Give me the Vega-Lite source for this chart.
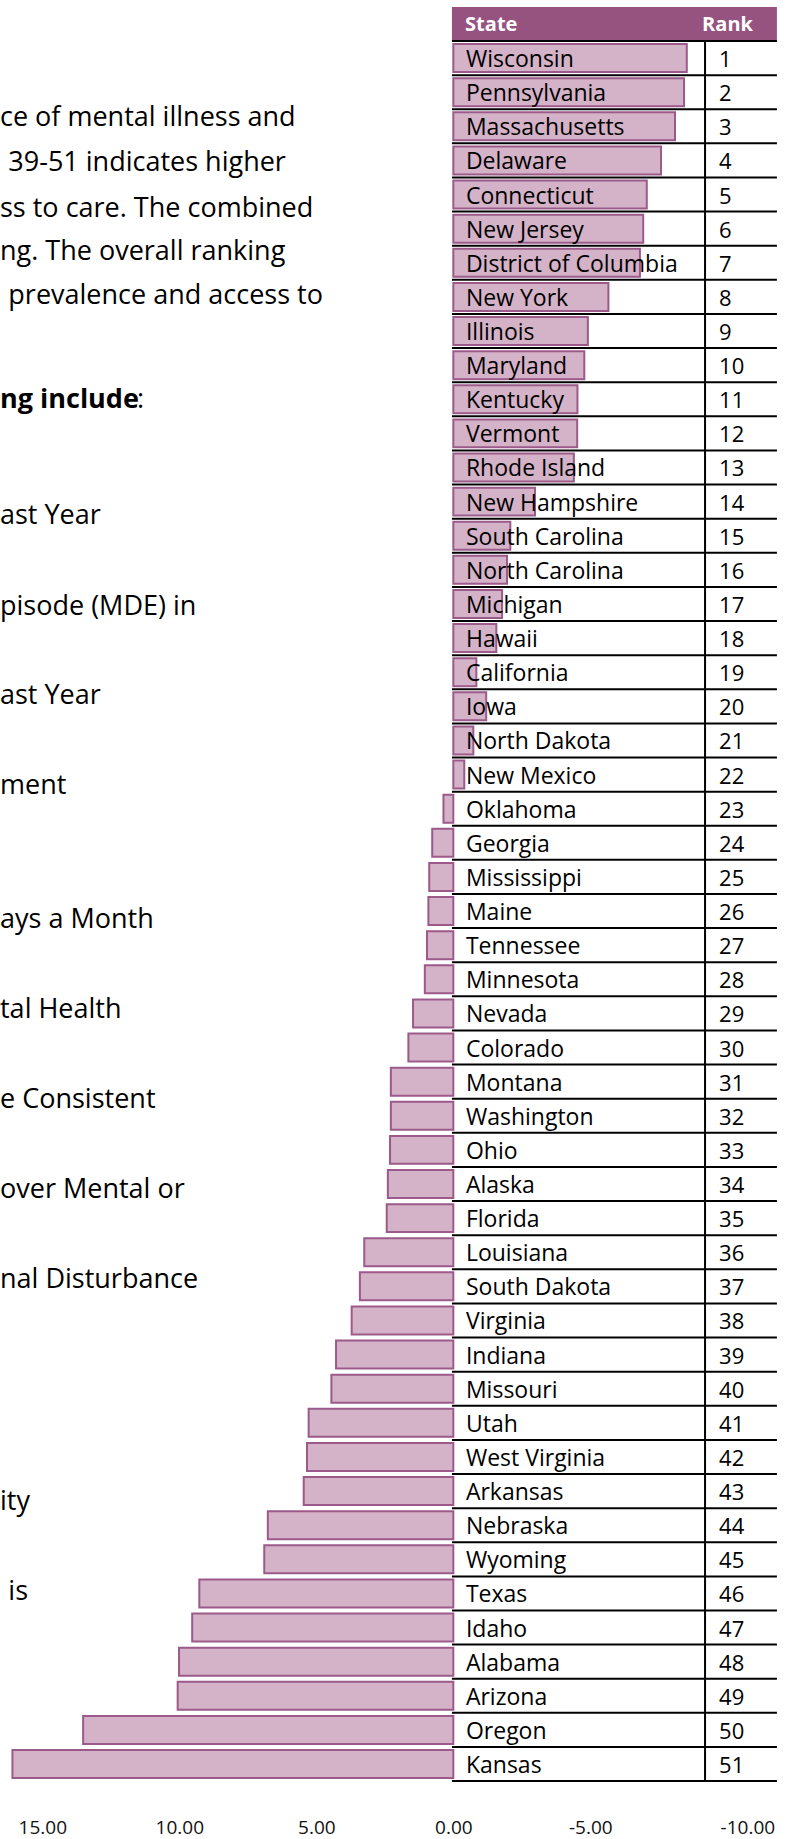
{
  "$schema": "https://vega.github.io/schema/vega-lite/v6.json",
  "width": 792,
  "height": 1800,
  "autosize": {"type": "none"},
  "padding": {"left": 0, "top": 0, "right": 0, "bottom": 39},
  "background": "white",
  "config": {
    "view": {"stroke": null},
    "font": "Open Sans",
    "axisX": {
      "domain": false, "ticks": false, "tickSize": 0, "grid": false, "title": null,
      "labelFont": "Open Sans", "labelFontSize": 19, "labelColor": "#111111",
      "labelPadding": 27, "labelBaseline": "middle", "labelFlush": false, "labelOverlap": false
    }
  },
  "datasets": {
    "states": [
      {"State": "Wisconsin", "Rank": 1, "Score": -8.52},
      {"State": "Pennsylvania", "Rank": 2, "Score": -8.42},
      {"State": "Massachusetts", "Rank": 3, "Score": -8.09},
      {"State": "Delaware", "Rank": 4, "Score": -7.58},
      {"State": "Connecticut", "Rank": 5, "Score": -7.06},
      {"State": "New Jersey", "Rank": 6, "Score": -6.93},
      {"State": "District of Columbia", "Rank": 7, "Score": -6.81},
      {"State": "New York", "Rank": 8, "Score": -5.66},
      {"State": "Illinois", "Rank": 9, "Score": -4.91},
      {"State": "Maryland", "Rank": 10, "Score": -4.78},
      {"State": "Kentucky", "Rank": 11, "Score": -4.53},
      {"State": "Vermont", "Rank": 12, "Score": -4.52},
      {"State": "Rhode Island", "Rank": 13, "Score": -4.40},
      {"State": "New Hampshire", "Rank": 14, "Score": -2.98},
      {"State": "South Carolina", "Rank": 15, "Score": -2.08},
      {"State": "North Carolina", "Rank": 16, "Score": -1.96},
      {"State": "Michigan", "Rank": 17, "Score": -1.78},
      {"State": "Hawaii", "Rank": 18, "Score": -1.57},
      {"State": "California", "Rank": 19, "Score": -0.84},
      {"State": "Iowa", "Rank": 20, "Score": -1.2},
      {"State": "North Dakota", "Rank": 21, "Score": -0.73},
      {"State": "New Mexico", "Rank": 22, "Score": -0.40},
      {"State": "Oklahoma", "Rank": 23, "Score": 0.36},
      {"State": "Georgia", "Rank": 24, "Score": 0.77},
      {"State": "Mississippi", "Rank": 25, "Score": 0.88},
      {"State": "Maine", "Rank": 26, "Score": 0.91},
      {"State": "Tennessee", "Rank": 27, "Score": 0.96},
      {"State": "Minnesota", "Rank": 28, "Score": 1.04},
      {"State": "Nevada", "Rank": 29, "Score": 1.47},
      {"State": "Colorado", "Rank": 30, "Score": 1.64},
      {"State": "Montana", "Rank": 31, "Score": 2.28},
      {"State": "Washington", "Rank": 32, "Score": 2.28},
      {"State": "Ohio", "Rank": 33, "Score": 2.31},
      {"State": "Alaska", "Rank": 34, "Score": 2.39},
      {"State": "Florida", "Rank": 35, "Score": 2.43},
      {"State": "Louisiana", "Rank": 36, "Score": 3.25},
      {"State": "South Dakota", "Rank": 37, "Score": 3.41},
      {"State": "Virginia", "Rank": 38, "Score": 3.71},
      {"State": "Indiana", "Rank": 39, "Score": 4.28},
      {"State": "Missouri", "Rank": 40, "Score": 4.45},
      {"State": "Utah", "Rank": 41, "Score": 5.28},
      {"State": "West Virginia", "Rank": 42, "Score": 5.34},
      {"State": "Arkansas", "Rank": 43, "Score": 5.46},
      {"State": "Nebraska", "Rank": 44, "Score": 6.77},
      {"State": "Wyoming", "Rank": 45, "Score": 6.90},
      {"State": "Texas", "Rank": 46, "Score": 9.27},
      {"State": "Idaho", "Rank": 47, "Score": 9.53},
      {"State": "Alabama", "Rank": 48, "Score": 10.01},
      {"State": "Arizona", "Rank": 49, "Score": 10.06},
      {"State": "Oregon", "Rank": 50, "Score": 13.51},
      {"State": "Kansas", "Rank": 51, "Score": 16.09}
    ],
    "header": [{"State": "State", "Rank": "Rank"}],
    "notes": [
      {"line": 2.63, "text": "ce of mental illness and"},
      {"line": 4.65, "text": "ss to care. The combined"},
      {"line": 5.62, "text": "ng. The overall ranking"},
      {"line": 11.5, "text": "ast Year"},
      {"line": 13.53, "text": "pisode (MDE) in"},
      {"line": 15.52, "text": "ast Year"},
      {"line": 17.52, "text": "ment"},
      {"line": 20.51, "text": "ays a Month"},
      {"line": 22.52, "text": "tal Health"},
      {"line": 24.53, "text": "e Consistent"},
      {"line": 26.53, "text": "over Mental or"},
      {"line": 28.54, "text": "nal Disturbance"},
      {"line": 33.49, "text": "ity"}
    ],
    "indented": [
      {"line": 3.63, "text": "39-51 indicates higher"},
      {"line": 6.61, "text": "prevalence and access to"},
      {"line": 35.5, "text": "is"}
    ],
    "boldnote": [{"line": 8.92, "text": "ng include"}],
    "colon": [{"line": 8.92, "text": ":"}]
  },
  "layer": [
    {
      "encoding": {
        "y": {
          "field": "State", "type": "nominal", "axis": null,
          "scale": {
            "domain": ["State", "Wisconsin", "Pennsylvania", "Massachusetts", "Delaware", "Connecticut", "New Jersey", "District of Columbia", "New York", "Illinois", "Maryland", "Kentucky", "Vermont", "Rhode Island", "New Hampshire", "South Carolina", "North Carolina", "Michigan", "Hawaii", "California", "Iowa", "North Dakota", "New Mexico", "Oklahoma", "Georgia", "Mississippi", "Maine", "Tennessee", "Minnesota", "Nevada", "Colorado", "Montana", "Washington", "Ohio", "Alaska", "Florida", "Louisiana", "South Dakota", "Virginia", "Indiana", "Missouri", "Utah", "West Virginia", "Arkansas", "Nebraska", "Wyoming", "Texas", "Idaho", "Alabama", "Arizona", "Oregon", "Kansas"],
            "paddingInner": 0, "paddingOuter": 0.378, "align": 0.267
          }
        }
      },
      "layer": [
        {
          "data": {"name": "header"},
          "mark": {"type": "bar", "fill": "#97537F"},
          "encoding": {
            "x": {"datum": 0.05, "scale": {"domain": [-12.36, 16.544], "reverse": true, "nice": false, "zero": false}, "axis": {"values": [15, 10, 5, 0, -5, -10], "labelExpr": "datum.value < 0 ? '-' + format(-datum.value, '.2f') : format(datum.value, '.2f')", "labelOffset": {"condition": {"test": "datum.value == -10", "value": 20}, "value": 0}}},
            "x2": {"datum": -11.81}
          }
        },
        {
          "data": {"name": "header"},
          "mark": {"type": "text", "align": "left", "baseline": "middle", "fontWeight": "bold", "fontSize": 20, "color": "white", "font": "Open Sans", "dy": 1},
          "encoding": {
            "x": {"datum": -0.43, "scale": {"domain": [-12.36, 16.544], "reverse": true, "nice": false, "zero": false}, "axis": {"values": [15, 10, 5, 0, -5, -10], "labelExpr": "datum.value < 0 ? '-' + format(-datum.value, '.2f') : format(datum.value, '.2f')", "labelOffset": {"condition": {"test": "datum.value == -10", "value": 20}, "value": 0}}},
            "text": {"field": "State"}
          }
        },
        {
          "data": {"name": "header"},
          "mark": {"type": "text", "align": "left", "baseline": "middle", "fontWeight": "bold", "fontSize": 20, "color": "white", "font": "Open Sans", "dy": 1},
          "encoding": {
            "x": {"datum": -9.08, "scale": {"domain": [-12.36, 16.544], "reverse": true, "nice": false, "zero": false}, "axis": {"values": [15, 10, 5, 0, -5, -10], "labelExpr": "datum.value < 0 ? '-' + format(-datum.value, '.2f') : format(datum.value, '.2f')", "labelOffset": {"condition": {"test": "datum.value == -10", "value": 20}, "value": 0}}},
            "text": {"field": "Rank"}
          }
        },
        {
          "data": {"name": "states"},
          "mark": {"type": "bar", "fill": "#000000"},
          "encoding": {
            "x": {"datum": -9.15, "scale": {"domain": [-12.36, 16.544], "reverse": true, "nice": false, "zero": false}, "axis": {"values": [15, 10, 5, 0, -5, -10], "labelExpr": "datum.value < 0 ? '-' + format(-datum.value, '.2f') : format(datum.value, '.2f')", "labelOffset": {"condition": {"test": "datum.value == -10", "value": 20}, "value": 0}}},
            "x2": {"datum": -9.223}
          }
        },
        {
          "data": {"name": "states"},
          "mark": {"type": "bar", "fill": "#D4B2C7", "stroke": "#9C5A8A", "strokeWidth": 2, "height": {"band": 0.82}},
          "encoding": {
            "x": {
              "field": "Score", "type": "quantitative",
              "scale": {"domain": [-12.36, 16.544], "reverse": true, "nice": false, "zero": false},
              "axis": {"values": [15, 10, 5, 0, -5, -10], "labelExpr": "datum.value < 0 ? '-' + format(-datum.value, '.2f') : format(datum.value, '.2f')", "labelOffset": {"condition": {"test": "datum.value == -10", "value": 20}, "value": 0}}
            },
            "x2": {"datum": 0}
          }
        },
        {
          "data": {"name": "header"},
          "mark": {"type": "rule", "color": "#000000", "strokeWidth": 2},
          "encoding": {
            "x": {"datum": 0.05, "scale": {"domain": [-12.36, 16.544], "reverse": true, "nice": false, "zero": false}, "axis": {"values": [15, 10, 5, 0, -5, -10], "labelExpr": "datum.value < 0 ? '-' + format(-datum.value, '.2f') : format(datum.value, '.2f')", "labelOffset": {"condition": {"test": "datum.value == -10", "value": 20}, "value": 0}}},
            "x2": {"datum": -11.81},
            "y": {
              "field": "State", "type": "nominal", "axis": null, "bandPosition": 1,
              "scale": {
                "domain": ["State", "Wisconsin", "Pennsylvania", "Massachusetts", "Delaware", "Connecticut", "New Jersey", "District of Columbia", "New York", "Illinois", "Maryland", "Kentucky", "Vermont", "Rhode Island", "New Hampshire", "South Carolina", "North Carolina", "Michigan", "Hawaii", "California", "Iowa", "North Dakota", "New Mexico", "Oklahoma", "Georgia", "Mississippi", "Maine", "Tennessee", "Minnesota", "Nevada", "Colorado", "Montana", "Washington", "Ohio", "Alaska", "Florida", "Louisiana", "South Dakota", "Virginia", "Indiana", "Missouri", "Utah", "West Virginia", "Arkansas", "Nebraska", "Wyoming", "Texas", "Idaho", "Alabama", "Arizona", "Oregon", "Kansas"],
                "paddingInner": 0, "paddingOuter": 0.378, "align": 0.267
              }
            }
          }
        },
        {
          "data": {"name": "states"},
          "mark": {"type": "rule", "color": "#000000", "strokeWidth": 2},
          "encoding": {
            "x": {"datum": 0.05, "scale": {"domain": [-12.36, 16.544], "reverse": true, "nice": false, "zero": false}, "axis": {"values": [15, 10, 5, 0, -5, -10], "labelExpr": "datum.value < 0 ? '-' + format(-datum.value, '.2f') : format(datum.value, '.2f')", "labelOffset": {"condition": {"test": "datum.value == -10", "value": 20}, "value": 0}}},
            "x2": {"datum": -11.81},
            "y": {
              "field": "State", "type": "nominal", "axis": null, "bandPosition": 1,
              "scale": {
                "domain": ["State", "Wisconsin", "Pennsylvania", "Massachusetts", "Delaware", "Connecticut", "New Jersey", "District of Columbia", "New York", "Illinois", "Maryland", "Kentucky", "Vermont", "Rhode Island", "New Hampshire", "South Carolina", "North Carolina", "Michigan", "Hawaii", "California", "Iowa", "North Dakota", "New Mexico", "Oklahoma", "Georgia", "Mississippi", "Maine", "Tennessee", "Minnesota", "Nevada", "Colorado", "Montana", "Washington", "Ohio", "Alaska", "Florida", "Louisiana", "South Dakota", "Virginia", "Indiana", "Missouri", "Utah", "West Virginia", "Arkansas", "Nebraska", "Wyoming", "Texas", "Idaho", "Alabama", "Arizona", "Oregon", "Kansas"],
                "paddingInner": 0, "paddingOuter": 0.378, "align": 0.267
              }
            }
          }
        },
        {
          "data": {"name": "states"},
          "mark": {"type": "text", "align": "left", "baseline": "middle", "fontSize": 23, "color": "#000000", "font": "Open Sans", "dy": 2},
          "encoding": {
            "x": {"datum": -0.46, "scale": {"domain": [-12.36, 16.544], "reverse": true, "nice": false, "zero": false}, "axis": {"values": [15, 10, 5, 0, -5, -10], "labelExpr": "datum.value < 0 ? '-' + format(-datum.value, '.2f') : format(datum.value, '.2f')", "labelOffset": {"condition": {"test": "datum.value == -10", "value": 20}, "value": 0}}},
            "text": {"field": "State"}
          }
        },
        {
          "data": {"name": "states"},
          "mark": {"type": "text", "align": "left", "baseline": "middle", "fontSize": 22, "color": "#000000", "font": "Open Sans", "dy": 2},
          "encoding": {
            "x": {"datum": -9.70, "scale": {"domain": [-12.36, 16.544], "reverse": true, "nice": false, "zero": false}, "axis": {"values": [15, 10, 5, 0, -5, -10], "labelExpr": "datum.value < 0 ? '-' + format(-datum.value, '.2f') : format(datum.value, '.2f')", "labelOffset": {"condition": {"test": "datum.value == -10", "value": 20}, "value": 0}}},
            "text": {"field": "Rank"}
          }
        }
      ]
    },
    {
      "encoding": {
        "y": {"field": "line", "type": "quantitative", "axis": null, "scale": {"domain": [0, 40.134], "reverse": true, "nice": false, "zero": false}}
      },
      "layer": [
        {
          "data": {"name": "notes"},
          "mark": {"type": "text", "align": "left", "baseline": "middle", "fontSize": 27, "color": "#000000", "font": "Open Sans"},
          "encoding": {
            "x": {"datum": 16.544, "scale": {"domain": [-12.36, 16.544], "reverse": true, "nice": false, "zero": false}, "axis": {"values": [15, 10, 5, 0, -5, -10], "labelExpr": "datum.value < 0 ? '-' + format(-datum.value, '.2f') : format(datum.value, '.2f')", "labelOffset": {"condition": {"test": "datum.value == -10", "value": 20}, "value": 0}}},
            "text": {"field": "text"}
          }
        },
        {
          "data": {"name": "indented"},
          "mark": {"type": "text", "align": "left", "baseline": "middle", "fontSize": 27, "color": "#000000", "font": "Open Sans"},
          "encoding": {
            "x": {"datum": 16.24, "scale": {"domain": [-12.36, 16.544], "reverse": true, "nice": false, "zero": false}, "axis": {"values": [15, 10, 5, 0, -5, -10], "labelExpr": "datum.value < 0 ? '-' + format(-datum.value, '.2f') : format(datum.value, '.2f')", "labelOffset": {"condition": {"test": "datum.value == -10", "value": 20}, "value": 0}}},
            "text": {"field": "text"}
          }
        },
        {
          "data": {"name": "boldnote"},
          "mark": {"type": "text", "align": "left", "baseline": "middle", "fontSize": 27, "fontWeight": "bold", "color": "#000000", "font": "Open Sans"},
          "encoding": {
            "x": {"datum": 16.544, "scale": {"domain": [-12.36, 16.544], "reverse": true, "nice": false, "zero": false}, "axis": {"values": [15, 10, 5, 0, -5, -10], "labelExpr": "datum.value < 0 ? '-' + format(-datum.value, '.2f') : format(datum.value, '.2f')", "labelOffset": {"condition": {"test": "datum.value == -10", "value": 20}, "value": 0}}},
            "text": {"field": "text"}
          }
        },
        {
          "data": {"name": "colon"},
          "mark": {"type": "text", "align": "left", "baseline": "middle", "fontSize": 27, "color": "#000000", "font": "Open Sans"},
          "encoding": {
            "x": {"datum": 11.54, "scale": {"domain": [-12.36, 16.544], "reverse": true, "nice": false, "zero": false}, "axis": {"values": [15, 10, 5, 0, -5, -10], "labelExpr": "datum.value < 0 ? '-' + format(-datum.value, '.2f') : format(datum.value, '.2f')", "labelOffset": {"condition": {"test": "datum.value == -10", "value": 20}, "value": 0}}},
            "text": {"field": "text"}
          }
        }
      ]
    }
  ],
  "resolve": {"scale": {"y": "independent"}}
}
